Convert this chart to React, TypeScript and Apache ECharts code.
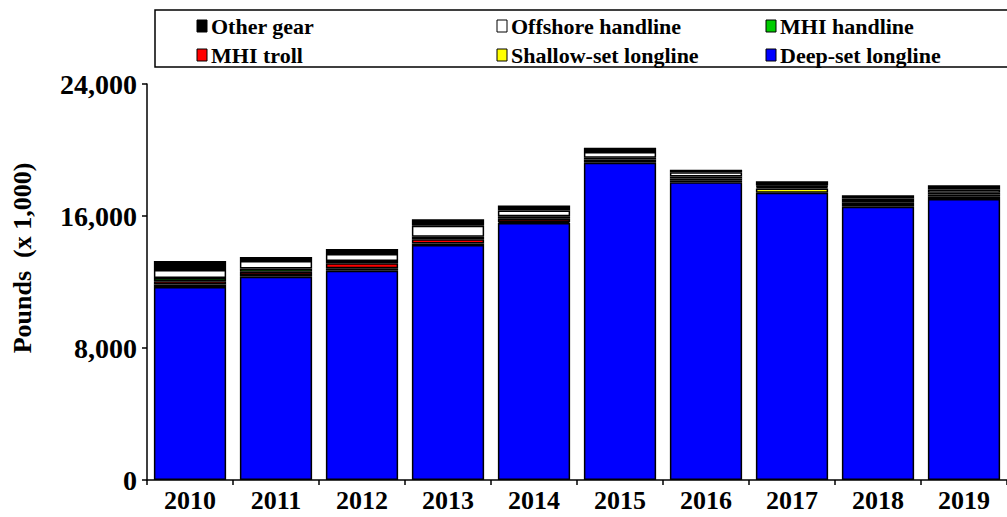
import React, { useEffect, useRef } from "react";
import * as echarts from "echarts";

const years = ["2010", "2011", "2012", "2013", "2014", "2015", "2016", "2017", "2018", "2019"];
const deepSet = [11700, 12320, 12680, 14240, 15580, 19230, 18040, 17410, 16560, 17030];
const shallowSet = [150, 100, 150, 100, 60, 100, 120, 260, 100, 130];
const mhiTroll = [200, 200, 300, 250, 200, 100, 120, 80, 150, 150];
const mhiHandline = [200, 200, 150, 150, 150, 100, 120, 50, 100, 100];
const offshoreHandline = [470, 450, 420, 670, 350, 350, 250, 50, 150, 200];
const otherGear = [550, 250, 300, 400, 300, 250, 150, 260, 200, 250];
const yTicks = [0, 8000, 16000, 24000];

const seriesDefs = [
  { name: "Deep-set longline", data: deepSet, color: "#0000FF" },
  { name: "Shallow-set longline", data: shallowSet, color: "#FFFF00" },
  { name: "MHI troll", data: mhiTroll, color: "#FF0000" },
  { name: "MHI handline", data: mhiHandline, color: "#00CC00" },
  { name: "Offshore handline", data: offshoreHandline, color: "#FFFFFF" },
  { name: "Other gear", data: otherGear, color: "#000000" },
];

const legendPos: Record<string, [number, number]> = {
  "Other gear": [197, 26],
  "Offshore handline": [497, 26],
  "MHI handline": [766, 26],
  "MHI troll": [197, 55],
  "Shallow-set longline": [497, 55],
  "Deep-set longline": [766, 55],
};

const FONT = "Liberation Serif";

export default function App() {
  const ref = useRef<HTMLDivElement>(null);
  useEffect(() => {
    if (!ref.current) return;
    const chart = echarts.init(ref.current, undefined, { renderer: "svg" });
    const fmt = (v: number) => v.toLocaleString("en-US");
    const legendGraphics: any[] = [];
    seriesDefs.forEach((s) => {
      const [lx, ly] = legendPos[s.name];
      legendGraphics.push({
        type: "rect",
        shape: { x: lx, y: ly - 6, width: 10, height: 12 },
        style: { fill: s.color, stroke: "#000", lineWidth: 1 },
      });
      legendGraphics.push({
        type: "text",
        x: lx + 14,
        y: ly,
        style: {
          text: s.name,
          fontFamily: FONT,
          fontWeight: "bold",
          fontSize: 22,
          fill: "#000",
          verticalAlign: "middle",
          align: "left",
        },
      });
    });
    chart.setOption({
      animation: false,
      backgroundColor: "#ffffff",
      textStyle: { fontFamily: FONT },
      graphic: [
        {
          type: "rect",
          shape: { x: 155, y: 10, width: 900, height: 57 },
          style: { fill: "none", stroke: "#000", lineWidth: 1.5 },
          z: 0,
        },
        {
          type: "text",
          x: 22,
          y: 258,
          rotation: Math.PI / 2,
          style: {
            text: "Pounds  (x 1,000)",
            fontFamily: FONT,
            fontWeight: "bold",
            fontSize: 26,
            fill: "#000",
            align: "center",
            verticalAlign: "middle",
          },
        },
        ...legendGraphics,
      ],
      grid: { left: 147, top: 84, bottom: 37, right: -13, containLabel: false },
      xAxis: {
        type: "category",
        data: years,
        axisLine: { lineStyle: { color: "#000", width: 1.5 } },
        axisTick: { show: true, inside: false, length: 5, lineStyle: { color: "#000", width: 1.5 } },
        axisLabel: { fontFamily: FONT, fontWeight: "bold", fontSize: 26, color: "#000", margin: 7 },
      },
      yAxis: {
        type: "value",
        min: yTicks[0],
        max: yTicks[yTicks.length - 1],
        interval: 8000,
        axisLine: { show: true, lineStyle: { color: "#000", width: 1.5 } },
        axisTick: { show: true, inside: false, length: 5, lineStyle: { color: "#000", width: 1.5 } },
        splitLine: { show: false },
        axisLabel: {
          fontFamily: FONT,
          fontWeight: "bold",
          fontSize: 28,
          color: "#000",
          margin: 10,
          formatter: (v: number) => fmt(v),
        },
      },
      series: seriesDefs.map((s) => ({
        name: s.name,
        type: "bar",
        stack: "total",
        data: s.data,
        barCategoryGap: "16%",
        itemStyle: { color: s.color, borderColor: "#000", borderWidth: 1.5 },
      })),
    });
    return () => chart.dispose();
  }, []);
  return <div ref={ref} style={{ width: 1007, height: 517, position: "absolute", left: 0, top: 0 }} />;
}
